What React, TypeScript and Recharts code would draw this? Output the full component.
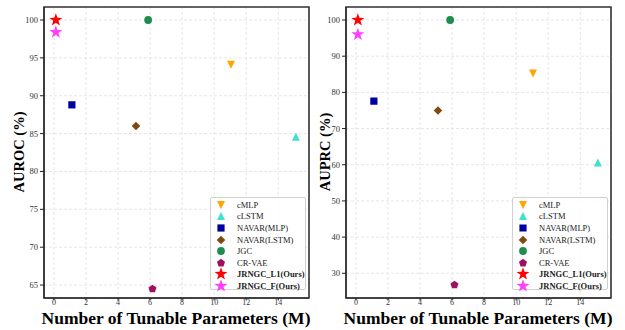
import React from "react";
import {
  ScatterChart,
  Scatter,
  XAxis,
  YAxis,
  CartesianGrid,
  ReferenceArea,
} from "recharts";

const methods = [
  "cMLP",
  "cLSTM",
  "NAVAR(MLP)",
  "NAVAR(LSTM)",
  "JGC",
  "CR-VAE",
  "JRNGC_L1(Ours)",
  "JRNGC_F(Ours)",
];
const params = [11.05, 15.1, 1.12, 5.12, 5.88, 6.15, 0.12, 0.12];
const auroc = [94.1, 84.6, 88.8, 86.0, 100, 64.5, 100, 98.4];
const auprc = [85.2, 60.6, 77.6, 75.0, 100, 26.8, 100, 96.0];

const xTicks = [0, 2, 4, 6, 8, 10, 12, 14];
const aurocTicks = [65, 70, 75, 80, 85, 90, 95, 100];
const auprcTicks = [30, 40, 50, 60, 70, 80, 90, 100];

const xDomain: [number, number] = [-0.62, 15.92];
const aurocDomain: [number, number] = [63.29, 101.72];
const auprcDomain: [number, number] = [23.17, 103.59];

const colors = [
  "#FFA500",
  "#40E0D0",
  "#0000A0",
  "#7F4A10",
  "#1E8C4E",
  "#A0105E",
  "#FF0000",
  "#FF40FF",
];
const kinds = ["tdown", "tup", "square", "diamond", "circle", "pentagon", "star", "star"];

const FONT = "Liberation Serif, DejaVu Serif, Times New Roman, serif";

function markerPath(kind: string, cx: number, cy: number) {
  if (kind === "tdown") {
    const r = 4;
    return `M${cx - r},${cy - r}L${cx + r},${cy - r}L${cx},${cy + r}Z`;
  }
  if (kind === "tup") {
    const r = 4;
    return `M${cx - r},${cy + r}L${cx + r},${cy + r}L${cx},${cy - r}Z`;
  }
  if (kind === "square") {
    const r = 3.6;
    return `M${cx - r},${cy - r}h${2 * r}v${2 * r}h${-2 * r}Z`;
  }
  if (kind === "diamond") {
    const r = 4.3;
    return `M${cx},${cy - r}L${cx + r},${cy}L${cx},${cy + r}L${cx - r},${cy}Z`;
  }
  if (kind === "pentagon") {
    const r = 4.2;
    let d = "";
    for (let i = 0; i < 5; i++) {
      const a = -Math.PI / 2 + (i * 2 * Math.PI) / 5;
      d += `${i === 0 ? "M" : "L"}${cx + r * Math.cos(a)},${cy + r * Math.sin(a)}`;
    }
    return d + "Z";
  }
  if (kind === "star") {
    const ro = 6.8;
    const ri = 2.7;
    let d = "";
    for (let i = 0; i < 10; i++) {
      const r = i % 2 === 0 ? ro : ri;
      const a = -Math.PI / 2 + (i * Math.PI) / 5;
      d += `${i === 0 ? "M" : "L"}${cx + r * Math.cos(a)},${cy + r * Math.sin(a)}`;
    }
    return d + "Z";
  }
  return "";
}

const Marker = ({ kind, cx, cy, color }: { kind: string; cx: number; cy: number; color: string }) =>
  kind === "circle" ? (
    <circle cx={cx} cy={cy} r={3.9} fill={color} />
  ) : (
    <path d={markerPath(kind, cx, cy)} fill={color} />
  );

const xTickStyle = { fontSize: 8, fill: "#333", fontFamily: FONT };
const yTickStyle = { fontSize: 8.5, fill: "#333", fontFamily: FONT };

const Legend = ({ left, top }: { left: number; top: number }) => (
  <div
    style={{
      position: "absolute",
      left,
      top,
      width: 96,
      height: 93,
      border: "1px solid #d0d0d0",
      borderRadius: 2,
      background: "rgba(255,255,255,0.85)",
      boxSizing: "border-box",
      fontFamily: FONT,
      fontSize: 8.5,
      color: "#222",
    }}
  >
    {methods.map((m, i) => (
      <div
        key={m}
        style={{
          position: "absolute",
          left: 0,
          top: 1 + i * 11.6,
          height: 11.6,
          width: "100%",
          display: "flex",
          alignItems: "center",
        }}
      >
        <svg width={20} height={12}>
          <Marker kind={kinds[i]} cx={10} cy={6} color={colors[i]} />
        </svg>
        <span style={{ marginLeft: 6, fontWeight: i >= 6 ? "bold" : "normal" }}>{m}</span>
      </div>
    ))}
  </div>
);

const Panel = ({
  values,
  yTicks,
  yDomain,
  yWidth,
  marginRight,
}: {
  values: number[];
  yTicks: number[];
  yDomain: [number, number];
  yWidth: number;
  marginRight: number;
}) => (
  <ScatterChart
    width={315}
    height={330}
    margin={{ top: 7, right: marginRight, left: 0, bottom: 0 }}
    style={{ fontFamily: FONT }}
  >
    <CartesianGrid stroke="#e6e6e6" strokeDasharray="3 2" />
    <XAxis
      type="number"
      dataKey="x"
      domain={xDomain}
      ticks={xTicks}
      height={32}
      tickSize={2.5}
      tickMargin={-1}
      tick={xTickStyle}
      stroke="#222"
      allowDataOverflow
    />
    <YAxis
      type="number"
      dataKey="y"
      domain={yDomain}
      ticks={yTicks}
      width={yWidth}
      tickSize={4}
      tickMargin={2}
      tick={yTickStyle}
      stroke="#222"
      allowDataOverflow
    />
    <ReferenceArea
      x1={xDomain[0]}
      x2={xDomain[1]}
      y1={yDomain[0]}
      y2={yDomain[1]}
      fill="none"
      stroke="#333"
      strokeWidth={1.6}
      ifOverflow="visible"
    />
    {methods.map((m, i) => (
      <Scatter
        key={m}
        name={m}
        data={[{ x: params[i], y: values[i] }]}
        isAnimationActive={false}
        shape={(p: any) => <Marker kind={kinds[i]} cx={p.cx} cy={p.cy} color={colors[i]} />}
      />
    ))}
  </ScatterChart>
);

const titleStyle: React.CSSProperties = {
  position: "absolute",
  fontFamily: FONT,
  fontWeight: "bold",
  color: "#000",
  whiteSpace: "nowrap",
  lineHeight: 0.85,
};

export default function App() {
  return (
    <div
      style={{
        position: "absolute",
        left: 0,
        top: 0,
        width: 625,
        height: 330,
        background: "#fff",
        overflow: "hidden",
      }}
    >
      <div style={{ position: "absolute", left: 0, top: 0 }}>
        <Panel values={auroc} yTicks={aurocTicks} yDomain={aurocDomain} yWidth={44} marginRight={6} />
      </div>
      <div style={{ position: "absolute", left: 310, top: 0 }}>
        <Panel values={auprc} yTicks={auprcTicks} yDomain={auprcDomain} yWidth={36} marginRight={14} />
      </div>

      <Legend left={210} top={197} />
      <Legend left={512} top={197} />

      <div
        style={{
          ...titleStyle,
          fontSize: 14.5,
          left: 19,
          top: 152,
          transform: "translate(-50%, -50%) rotate(-90deg)",
        }}
      >
        AUROC (%)
      </div>
      <div
        style={{
          ...titleStyle,
          fontSize: 14.5,
          left: 325,
          top: 152,
          transform: "translate(-50%, -50%) rotate(-90deg)",
        }}
      >
        AUPRC (%)
      </div>

      <svg
        width={625}
        height={330}
        style={{ position: "absolute", left: 0, top: 0, pointerEvents: "none" }}
      >
        <text
          x={176}
          y={323.5}
          textAnchor="middle"
          fontFamily={FONT}
          fontWeight="bold"
          fontSize={17.5}
          fill="#000"
        >
          Number of Tunable Parameters (M)
        </text>
        <text
          x={478}
          y={323.5}
          textAnchor="middle"
          fontFamily={FONT}
          fontWeight="bold"
          fontSize={17.5}
          fill="#000"
        >
          Number of Tunable Parameters (M)
        </text>
      </svg>
    </div>
  );
}
